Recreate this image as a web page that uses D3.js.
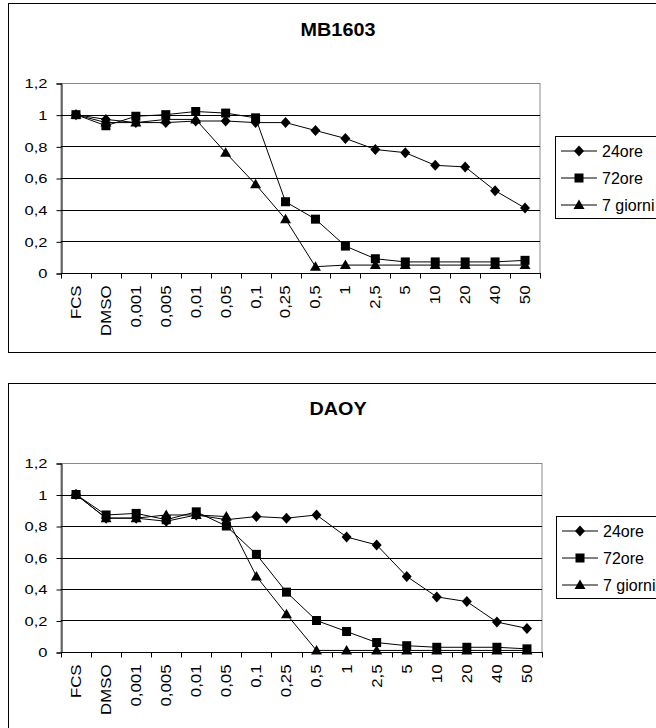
<!DOCTYPE html>
<html>
<head>
<meta charset="utf-8">
<script src="https://cdn.jsdelivr.net/npm/d3@7"></script>
<style>
  body { margin: 0; background: #fff; }
  svg { font-family: "Liberation Sans", Arial, sans-serif; }
</style>
</head>
<body>
<svg id="chart" width="656" height="728"></svg>
<script>
// categories on the x axis
var categories = ["FCS", "DMSO", "0,001", "0,005", "0,01", "0,05", "0,1", "0,25",
  "0,5", "1", "2,5", "5", "10", "20", "40", "50"];
var yTicks = [0, 0.2, 0.4, 0.6, 0.8, 1, 1.2];
var seriesNames = ["24ore", "72ore", "7 giorni"];

// MB1603
var mb24 = [1.0, 0.97, 0.95, 0.95, 0.96, 0.96, 0.95, 0.95, 0.90, 0.85, 0.78, 0.76, 0.68, 0.67, 0.52, 0.41];
var mb72 = [1.0, 0.93, 0.99, 1.0, 1.02, 1.01, 0.98, 0.45, 0.34, 0.17, 0.09, 0.07, 0.07, 0.07, 0.07, 0.08];
var mb7 = [1.0, 0.95, 0.95, 0.97, 0.97, 0.76, 0.56, 0.34, 0.04, 0.05, 0.05, 0.05, 0.05, 0.05, 0.05, 0.05];

// DAOY
var daoy24 = [1.0, 0.85, 0.85, 0.83, 0.87, 0.84, 0.86, 0.85, 0.87, 0.73, 0.68, 0.48, 0.35, 0.32, 0.19, 0.15];
var daoy72 = [1.0, 0.87, 0.88, 0.84, 0.89, 0.80, 0.62, 0.38, 0.20, 0.13, 0.06, 0.04, 0.03, 0.03, 0.03, 0.02];
var daoy7 = [1.0, 0.85, 0.85, 0.87, 0.87, 0.86, 0.48, 0.24, 0.01, 0.01, 0.01, 0.01, 0.01, 0.01, 0.01, 0.01];

var svg = d3.select("#chart");
var fmt = function(v) { return String(Math.round(v * 10) / 10).replace(".", ","); };

function marker(g, type, cx, cy) {
  if (type === 0) {
    g.append("path").attr("d", "M" + cx + "," + (cy - 5.5) + "L" + (cx + 5) + "," + cy +
      "L" + cx + "," + (cy + 5.5) + "L" + (cx - 5) + "," + cy + "Z").attr("fill", "#000");
  } else if (type === 1) {
    g.append("rect").attr("x", cx - 4.5).attr("y", cy - 4.5).attr("width", 9).attr("height", 9).attr("fill", "#000");
  } else {
    g.append("path").attr("d", "M" + cx + "," + (cy - 5.5) + "L" + (cx + 5.5) + "," + (cy + 4) +
      "L" + (cx - 5.5) + "," + (cy + 4) + "Z").attr("fill", "#000");
  }
}

function drawChart(cfg) {
  var g = svg.append("g");

  // outer frame
  g.append("rect")
    .attr("x", 8.5).attr("y", cfg.boxTop + 0.5)
    .attr("width", 662).attr("height", cfg.boxH)
    .attr("fill", "none").attr("stroke", "#000");

  var x = d3.scaleBand().domain(categories).range([cfg.left, cfg.right]);
  var y = d3.scaleLinear().domain([0, 1.2]).range([cfg.bottom, cfg.top]);

  // plot border (grey)
  g.append("rect")
    .attr("x", cfg.left).attr("y", cfg.top + 0.5)
    .attr("width", cfg.right - cfg.left).attr("height", cfg.bottom - cfg.top)
    .attr("fill", "none").attr("stroke", "#888");

  // grid lines
  g.selectAll(".grid").data(yTicks.filter(function(d) { return d > 0 && d < 1.2; }))
    .enter().append("line")
    .attr("x1", cfg.left).attr("x2", cfg.right)
    .attr("y1", function(d) { return Math.round(y(d)) + 0.5; })
    .attr("y2", function(d) { return Math.round(y(d)) + 0.5; })
    .attr("stroke", "#000");

  // y axis
  var ya = g.append("g")
    .attr("transform", "translate(" + (cfg.left + 0.5) + ",0.5)")
    .call(d3.axisLeft(y).tickValues(yTicks).tickFormat(fmt).tickSize(5));
  ya.select(".domain").attr("stroke", "#000");
  ya.selectAll("text")
    .style("font-size", "13px").attr("fill", "#000")
    .attr("x", 0)
    .attr("transform", "translate(-14,0) scale(1.27,1)");

  // x axis: labels rotated, ticks at band boundaries
  var xa = g.append("g")
    .attr("transform", "translate(0," + (Math.round(cfg.bottom) + 0.5) + ")")
    .call(d3.axisBottom(x).tickSize(0).tickPadding(0));
  xa.select(".domain").remove();
  xa.selectAll("text")
    .style("font-size", "14px").attr("fill", "#000")
    .attr("text-anchor", "end")
    .attr("dy", "0.35em")
    .attr("transform", "translate(0,12) rotate(-90) scale(1.2,1)")
    .attr("y", 0).attr("x", 0);
  g.append("line")
    .attr("x1", cfg.left).attr("x2", cfg.right)
    .attr("y1", Math.round(cfg.bottom) + 0.5).attr("y2", Math.round(cfg.bottom) + 0.5)
    .attr("stroke", "#000");
  var bounds = categories.map(function(c) { return x(c); }).concat([cfg.right]);
  g.selectAll(".xt").data(bounds).enter().append("line")
    .attr("x1", function(d) { return Math.round(d) + 0.5; })
    .attr("x2", function(d) { return Math.round(d) + 0.5; })
    .attr("y1", Math.round(cfg.bottom)).attr("y2", Math.round(cfg.bottom) + 5.5)
    .attr("stroke", "#000");

  // lines and markers
  var line = d3.line()
    .x(function(d, i) { return x(categories[i]) + x.bandwidth() / 2; })
    .y(function(d) { return y(d); });
  cfg.series.forEach(function(s, k) {
    g.append("path").datum(s).attr("d", line)
      .attr("fill", "none").attr("stroke", "#000").attr("stroke-width", 1);
  });
  cfg.series.forEach(function(s, k) {
    s.forEach(function(v, i) {
      marker(g, k, x(categories[i]) + x.bandwidth() / 2, y(v));
    });
  });

  // title
  g.append("text")
    .attr("transform", "translate(338," + cfg.titleY + ") scale(1.1,1)")
    .attr("text-anchor", "middle")
    .style("font-size", "18px").style("font-weight", "bold")
    .text(cfg.title);

  // legend
  g.append("rect")
    .attr("x", cfg.legX + 0.5).attr("y", cfg.legY + 0.5)
    .attr("width", 120).attr("height", 82)
    .attr("fill", "#fff").attr("stroke", "#000");
  seriesNames.forEach(function(name, k) {
    var ly = cfg.legY + 15 + k * 27;
    g.append("line").attr("x1", cfg.legX + 6).attr("x2", cfg.legX + 42)
      .attr("y1", ly).attr("y2", ly).attr("stroke", "#000");
    marker(g, k, cfg.legX + 24, ly);
    g.append("text").attr("x", cfg.legX + 47).attr("y", ly + 6)
      .style("font-size", "16px").text(name);
  });
}

drawChart({
  title: "MB1603", boxTop: 3, boxH: 349, titleY: 36,
  left: 61, right: 540, top: 83, bottom: 273,
  legX: 555, legY: 136,
  series: [mb24, mb72, mb7]
});

drawChart({
  title: "DAOY", boxTop: 383, boxH: 360, titleY: 415,
  left: 61, right: 542, top: 463, bottom: 652,
  legX: 556, legY: 516,
  series: [daoy24, daoy72, daoy7]
});
</script>
</body>
</html>
